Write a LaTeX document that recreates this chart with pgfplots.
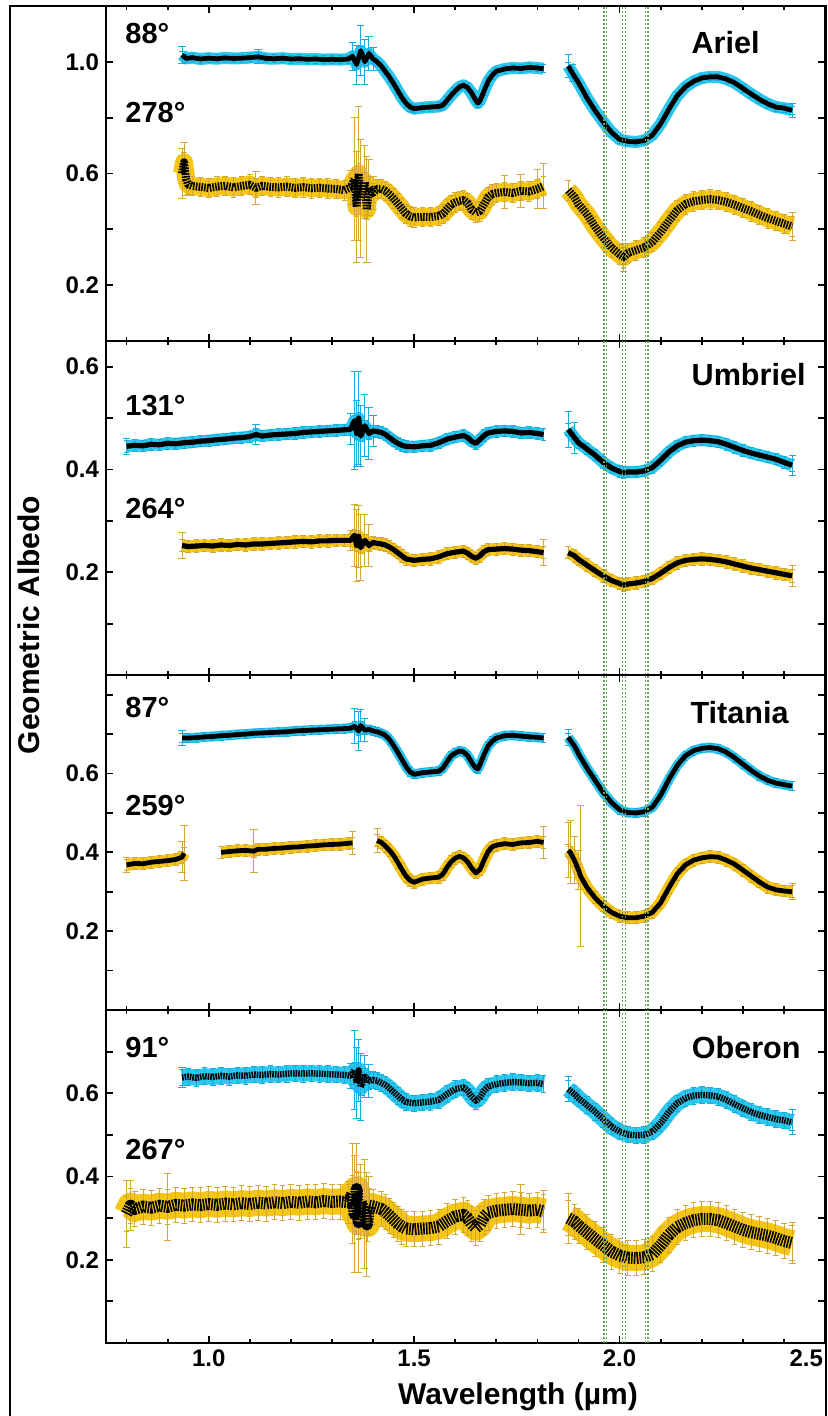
\documentclass[border=0pt]{standalone}
\usepackage{pgfplots}
\pgfplotsset{compat=1.18}
\usepackage{pgfplotstable}
\usepackage{fontspec}
\setmainfont{Liberation Sans}

\definecolor{cband}{RGB}{45,200,240}
\definecolor{cbar}{RGB}{20,175,225}
\definecolor{gband}{RGB}{246,198,20}
\definecolor{gbar}{RGB}{212,168,50}
\definecolor{vline}{RGB}{105,160,95}

% ---------------- Ariel ----------------
\pgfplotstableread{
x y
0.935 1.025
0.945 1.012
0.960 1.015
0.980 1.010
1.000 1.013
1.020 1.011
1.040 1.014
1.060 1.012
1.080 1.013
1.100 1.015
1.120 1.018
1.140 1.012
1.160 1.011
1.180 1.013
1.200 1.010
1.220 1.011
1.240 1.009
1.260 1.010
1.280 1.008
1.300 1.009
1.320 1.008
1.340 1.010
1.350 1.020
1.360 0.990
1.370 1.040
1.380 1.000
1.390 1.030
1.400 1.010
1.410 1.000
1.420 0.985
1.430 0.965
1.440 0.945
1.450 0.922
1.460 0.897
1.470 0.872
1.480 0.852
1.490 0.838
1.500 0.832
1.520 0.836
1.540 0.838
1.560 0.840
1.570 0.845
1.580 0.862
1.590 0.880
1.600 0.896
1.610 0.910
1.620 0.916
1.630 0.908
1.640 0.888
1.650 0.862
1.655 0.852
1.660 0.860
1.670 0.895
1.680 0.930
1.690 0.952
1.700 0.966
1.720 0.974
1.740 0.978
1.760 0.976
1.780 0.980
1.800 0.978
1.815 0.975
nan nan
1.875 0.985
1.885 0.960
1.900 0.925
1.920 0.872
1.940 0.826
1.960 0.785
1.980 0.748
2.000 0.722
2.020 0.715
2.040 0.713
2.060 0.718
2.080 0.738
2.100 0.778
2.120 0.830
2.140 0.878
2.160 0.910
2.180 0.930
2.200 0.942
2.220 0.946
2.240 0.946
2.260 0.938
2.280 0.925
2.300 0.905
2.320 0.885
2.340 0.866
2.360 0.850
2.380 0.838
2.400 0.834
2.420 0.826
}\ArielA
\pgfplotstableread{
x y e
0.935 1.025 0.030
1.120 1.018 0.025
1.350 1.020 0.050
1.360 0.990 0.070
1.370 1.040 0.090
1.380 1.000 0.080
1.390 1.030 0.060
1.400 1.010 0.040
1.875 0.985 0.040
1.885 0.960 0.030
2.420 0.826 0.025
}\ArielAe
\pgfplotstableread{
x y
0.935 0.600
0.940 0.640
0.945 0.580
0.950 0.560
0.960 0.555
0.980 0.552
1.000 0.548
1.020 0.553
1.040 0.556
1.060 0.550
1.080 0.555
1.100 0.560
1.115 0.548
1.130 0.556
1.150 0.552
1.170 0.550
1.190 0.553
1.210 0.548
1.230 0.551
1.250 0.547
1.270 0.549
1.290 0.546
1.310 0.545
1.330 0.540
1.345 0.550
1.355 0.580
1.360 0.480
1.365 0.600
1.370 0.510
1.380 0.570
1.385 0.470
1.390 0.550
1.400 0.530
1.410 0.545
1.420 0.545
1.430 0.538
1.440 0.525
1.450 0.510
1.460 0.492
1.470 0.474
1.480 0.456
1.490 0.446
1.500 0.442
1.520 0.445
1.540 0.444
1.560 0.448
1.570 0.455
1.580 0.472
1.590 0.488
1.600 0.496
1.610 0.502
1.620 0.505
1.630 0.494
1.640 0.470
1.650 0.460
1.660 0.465
1.670 0.490
1.680 0.515
1.690 0.526
1.700 0.530
1.720 0.534
1.740 0.530
1.760 0.538
1.780 0.535
1.800 0.545
1.815 0.555
nan nan
1.875 0.540
1.890 0.515
1.900 0.490
1.920 0.455
1.940 0.410
1.960 0.370
1.980 0.335
2.000 0.310
2.010 0.300
2.020 0.315
2.040 0.325
2.060 0.335
2.080 0.355
2.100 0.390
2.120 0.430
2.140 0.468
2.160 0.490
2.180 0.500
2.200 0.505
2.220 0.508
2.240 0.505
2.260 0.498
2.280 0.488
2.300 0.476
2.320 0.465
2.340 0.452
2.360 0.440
2.380 0.430
2.400 0.420
2.420 0.410
}\ArielB
\pgfplotstableread{
x y e
0.935 0.600 0.090
0.940 0.640 0.070
0.945 0.580 0.060
1.115 0.548 0.060
1.345 0.550 0.060
1.355 0.580 0.220
1.360 0.480 0.200
1.365 0.600 0.240
1.370 0.510 0.210
1.380 0.570 0.130
1.385 0.470 0.190
1.390 0.550 0.100
1.400 0.530 0.060
1.720 0.534 0.060
1.760 0.538 0.060
1.800 0.545 0.070
1.815 0.555 0.080
2.010 0.300 0.050
2.420 0.410 0.050
}\ArielBe

% ---------------- Umbriel ----------------
\pgfplotstableread{
x y
0.800 0.445
0.820 0.447
0.840 0.446
0.860 0.449
0.880 0.448
0.900 0.451
0.920 0.450
0.940 0.452
0.960 0.453
0.980 0.455
1.000 0.456
1.020 0.458
1.040 0.459
1.060 0.461
1.080 0.462
1.100 0.464
1.115 0.468
1.130 0.465
1.150 0.467
1.170 0.468
1.190 0.469
1.210 0.470
1.230 0.472
1.250 0.473
1.270 0.474
1.290 0.475
1.310 0.476
1.330 0.477
1.345 0.478
1.355 0.495
1.360 0.470
1.365 0.500
1.370 0.465
1.380 0.485
1.390 0.470
1.400 0.475
1.410 0.474
1.420 0.472
1.430 0.468
1.440 0.462
1.450 0.456
1.460 0.451
1.470 0.447
1.480 0.445
1.500 0.444
1.520 0.446
1.540 0.447
1.560 0.452
1.580 0.459
1.600 0.463
1.620 0.466
1.630 0.462
1.640 0.455
1.650 0.451
1.660 0.458
1.670 0.466
1.680 0.471
1.700 0.474
1.720 0.475
1.740 0.474
1.760 0.471
1.780 0.472
1.800 0.470
1.815 0.468
nan nan
1.875 0.478
1.890 0.462
1.900 0.452
1.920 0.440
1.940 0.428
1.960 0.414
1.980 0.403
2.000 0.396
2.010 0.394
2.020 0.395
2.040 0.395
2.060 0.397
2.080 0.404
2.100 0.418
2.120 0.434
2.140 0.446
2.160 0.453
2.180 0.456
2.200 0.457
2.220 0.456
2.240 0.454
2.260 0.449
2.280 0.443
2.300 0.437
2.320 0.432
2.340 0.428
2.360 0.424
2.380 0.420
2.400 0.414
2.420 0.408
}\UmbrielA
\pgfplotstableread{
x y e
0.800 0.445 0.015
1.115 0.468 0.020
1.345 0.478 0.030
1.355 0.495 0.095
1.360 0.470 0.065
1.365 0.500 0.090
1.370 0.465 0.060
1.380 0.485 0.060
1.390 0.470 0.050
1.400 0.475 0.030
1.875 0.478 0.035
1.890 0.462 0.030
2.420 0.408 0.020
}\UmbrielAe
\pgfplotstableread{
x y
0.935 0.252
0.950 0.250
0.970 0.251
0.990 0.252
1.010 0.251
1.030 0.253
1.050 0.252
1.070 0.254
1.090 0.253
1.110 0.255
1.130 0.255
1.150 0.256
1.170 0.257
1.190 0.258
1.210 0.259
1.230 0.260
1.250 0.259
1.270 0.261
1.290 0.261
1.310 0.262
1.330 0.262
1.345 0.262
1.355 0.272
1.360 0.252
1.365 0.270
1.370 0.248
1.380 0.262
1.390 0.252
1.400 0.258
1.410 0.256
1.420 0.255
1.430 0.253
1.440 0.249
1.450 0.244
1.460 0.238
1.470 0.232
1.480 0.226
1.500 0.223
1.520 0.225
1.540 0.226
1.560 0.230
1.580 0.236
1.600 0.239
1.620 0.241
1.630 0.237
1.640 0.231
1.650 0.227
1.660 0.232
1.670 0.240
1.680 0.244
1.700 0.245
1.720 0.246
1.740 0.245
1.760 0.243
1.780 0.242
1.800 0.240
1.815 0.238
nan nan
1.875 0.238
1.890 0.232
1.900 0.225
1.920 0.214
1.940 0.203
1.960 0.193
1.980 0.184
2.000 0.178
2.010 0.175
2.020 0.177
2.040 0.179
2.060 0.182
2.080 0.188
2.100 0.198
2.120 0.209
2.140 0.218
2.160 0.223
2.180 0.225
2.200 0.226
2.220 0.225
2.240 0.223
2.260 0.220
2.280 0.216
2.300 0.212
2.320 0.208
2.340 0.205
2.360 0.202
2.380 0.199
2.400 0.196
2.420 0.193
}\UmbrielB
\pgfplotstableread{
x y e
0.935 0.252 0.025
1.345 0.262 0.020
1.355 0.272 0.060
1.360 0.252 0.070
1.365 0.270 0.060
1.370 0.248 0.065
1.380 0.262 0.050
1.390 0.252 0.040
1.815 0.238 0.025
2.420 0.193 0.020
}\UmbrielBe

% ---------------- Titania ----------------
\pgfplotstableread{
x y
0.935 0.690
0.950 0.690
0.970 0.691
0.990 0.693
1.010 0.694
1.030 0.696
1.050 0.697
1.070 0.699
1.090 0.700
1.110 0.702
1.130 0.703
1.150 0.704
1.170 0.705
1.190 0.706
1.210 0.708
1.230 0.709
1.250 0.710
1.270 0.711
1.290 0.712
1.310 0.713
1.330 0.714
1.345 0.715
1.355 0.720
1.365 0.708
1.370 0.722
1.380 0.710
1.390 0.712
1.400 0.708
1.410 0.706
1.420 0.702
1.430 0.697
1.440 0.686
1.450 0.671
1.460 0.654
1.470 0.636
1.480 0.618
1.490 0.604
1.500 0.598
1.520 0.602
1.540 0.604
1.560 0.606
1.570 0.614
1.580 0.630
1.590 0.645
1.600 0.652
1.610 0.657
1.620 0.655
1.630 0.646
1.640 0.628
1.650 0.614
1.655 0.612
1.660 0.622
1.670 0.648
1.680 0.670
1.690 0.682
1.700 0.690
1.720 0.696
1.740 0.697
1.760 0.695
1.780 0.693
1.800 0.692
1.815 0.690
nan nan
1.875 0.692
1.890 0.670
1.900 0.650
1.920 0.615
1.940 0.583
1.960 0.552
1.980 0.527
2.000 0.508
2.020 0.501
2.040 0.500
2.060 0.503
2.080 0.515
2.100 0.545
2.120 0.585
2.140 0.620
2.160 0.645
2.180 0.658
2.200 0.664
2.220 0.666
2.240 0.663
2.260 0.654
2.280 0.640
2.300 0.624
2.320 0.608
2.340 0.594
2.360 0.583
2.380 0.576
2.400 0.572
2.420 0.568
}\TitaniaA
\pgfplotstableread{
x y e
0.935 0.690 0.018
1.355 0.720 0.045
1.365 0.708 0.050
1.370 0.722 0.040
1.380 0.710 0.030
1.875 0.692 0.020
}\TitaniaAe
\pgfplotstableread{
x y
0.800 0.368
0.820 0.372
0.840 0.371
0.860 0.375
0.880 0.377
0.900 0.379
0.920 0.382
0.935 0.388
0.940 0.398
nan nan
1.030 0.400
1.050 0.402
1.070 0.404
1.090 0.405
1.110 0.403
1.120 0.408
1.140 0.408
1.160 0.410
1.180 0.411
1.200 0.413
1.220 0.414
1.240 0.416
1.260 0.417
1.280 0.419
1.300 0.420
1.320 0.421
1.340 0.423
1.350 0.424
nan nan
1.410 0.430
1.420 0.425
1.430 0.416
1.440 0.405
1.450 0.392
1.460 0.375
1.470 0.357
1.480 0.340
1.490 0.329
1.500 0.324
1.520 0.332
1.540 0.335
1.560 0.337
1.570 0.345
1.580 0.362
1.590 0.376
1.600 0.385
1.610 0.390
1.620 0.386
1.630 0.376
1.640 0.360
1.650 0.348
1.660 0.356
1.670 0.380
1.680 0.402
1.690 0.414
1.700 0.418
1.720 0.422
1.740 0.420
1.760 0.424
1.780 0.425
1.800 0.428
1.815 0.425
nan nan
1.875 0.405
1.880 0.400
1.890 0.380
1.900 0.355
1.905 0.340
1.920 0.312
1.940 0.285
1.960 0.264
1.980 0.248
2.000 0.238
2.020 0.234
2.040 0.234
2.060 0.238
2.080 0.248
2.100 0.272
2.120 0.310
2.140 0.345
2.160 0.368
2.180 0.380
2.200 0.386
2.220 0.389
2.240 0.388
2.260 0.380
2.280 0.370
2.300 0.355
2.320 0.340
2.340 0.325
2.360 0.312
2.380 0.305
2.400 0.302
2.420 0.300
}\TitaniaB
\pgfplotstableread{
x y e
0.800 0.368 0.020
0.935 0.388 0.040
0.940 0.398 0.070
1.110 0.403 0.055
1.350 0.424 0.030
1.410 0.430 0.030
1.815 0.425 0.040
1.875 0.405 0.070
1.880 0.400 0.080
1.890 0.380 0.060
1.900 0.355 0.050
1.905 0.340 0.180
2.420 0.300 0.020
}\TitaniaBe

% ---------------- Oberon ----------------
\pgfplotstableread{
x y
0.935 0.638
0.950 0.640
0.970 0.637
0.990 0.641
1.010 0.639
1.030 0.642
1.050 0.640
1.070 0.643
1.090 0.642
1.110 0.645
1.130 0.644
1.150 0.646
1.170 0.645
1.190 0.647
1.210 0.648
1.230 0.647
1.250 0.648
1.270 0.647
1.290 0.646
1.310 0.645
1.330 0.644
1.345 0.642
1.355 0.655
1.360 0.625
1.365 0.655
1.370 0.615
1.380 0.640
1.390 0.630
1.400 0.632
1.410 0.630
1.420 0.625
1.430 0.620
1.440 0.612
1.450 0.603
1.460 0.594
1.470 0.585
1.480 0.579
1.500 0.576
1.520 0.578
1.540 0.580
1.560 0.584
1.580 0.598
1.600 0.610
1.620 0.614
1.630 0.606
1.640 0.592
1.650 0.582
1.660 0.590
1.670 0.606
1.680 0.616
1.700 0.622
1.720 0.625
1.740 0.627
1.760 0.626
1.780 0.624
1.800 0.625
1.815 0.622
nan nan
1.875 0.610
1.890 0.598
1.900 0.588
1.920 0.572
1.940 0.556
1.960 0.538
1.980 0.520
2.000 0.508
2.020 0.501
2.040 0.499
2.060 0.500
2.080 0.508
2.100 0.528
2.120 0.555
2.140 0.576
2.160 0.588
2.180 0.594
2.200 0.596
2.220 0.595
2.240 0.592
2.260 0.584
2.280 0.574
2.300 0.564
2.320 0.555
2.340 0.548
2.360 0.543
2.380 0.538
2.400 0.535
2.420 0.530
}\OberonA
\pgfplotstableread{
x y e
0.935 0.638 0.025
1.345 0.642 0.030
1.355 0.655 0.095
1.360 0.625 0.085
1.365 0.655 0.075
1.370 0.615 0.080
1.380 0.640 0.050
1.390 0.630 0.040
1.875 0.610 0.030
2.420 0.530 0.030
}\OberonAe
\pgfplotstableread{
x y
0.800 0.310
0.810 0.330
0.820 0.322
0.840 0.328
0.860 0.325
0.880 0.330
0.900 0.327
0.920 0.332
0.940 0.330
0.960 0.333
0.980 0.331
1.000 0.334
1.020 0.332
1.040 0.335
1.060 0.333
1.080 0.336
1.100 0.334
1.120 0.337
1.140 0.335
1.160 0.338
1.180 0.336
1.200 0.339
1.220 0.337
1.240 0.340
1.260 0.338
1.280 0.341
1.300 0.339
1.320 0.340
1.340 0.338
1.350 0.360
1.355 0.310
1.360 0.370
1.365 0.290
1.370 0.340
1.380 0.310
1.385 0.285
1.390 0.330
1.400 0.328
1.420 0.322
1.430 0.315
1.440 0.306
1.450 0.296
1.460 0.287
1.470 0.280
1.480 0.275
1.500 0.273
1.520 0.275
1.540 0.276
1.560 0.280
1.580 0.293
1.600 0.304
1.620 0.308
1.630 0.300
1.640 0.286
1.650 0.277
1.660 0.285
1.670 0.303
1.680 0.313
1.700 0.318
1.720 0.320
1.740 0.322
1.760 0.320
1.780 0.318
1.800 0.320
1.815 0.316
nan nan
1.875 0.300
1.890 0.292
1.900 0.282
1.920 0.266
1.940 0.250
1.960 0.235
1.980 0.220
2.000 0.210
2.020 0.205
2.040 0.204
2.060 0.206
2.080 0.214
2.100 0.235
2.120 0.260
2.140 0.278
2.160 0.288
2.180 0.295
2.200 0.298
2.220 0.298
2.240 0.295
2.260 0.288
2.280 0.280
2.300 0.272
2.320 0.266
2.340 0.262
2.360 0.258
2.380 0.252
2.400 0.245
2.420 0.240
}\OberonB
\pgfplotstableread{
x y e
0.800 0.310 0.080
0.810 0.330 0.060
0.900 0.327 0.080
1.340 0.338 0.050
1.350 0.360 0.120
1.355 0.310 0.140
1.360 0.370 0.110
1.365 0.290 0.120
1.370 0.340 0.090
1.380 0.310 0.130
1.385 0.285 0.125
1.390 0.330 0.070
1.760 0.320 0.060
1.815 0.316 0.050
1.875 0.300 0.060
2.420 0.240 0.050
}\OberonBe

% one spectrum: band, error bars, black trace
% #1 data, #2 large error bars, #3 band colour, #4 bar colour,
% #5 band width, #6 typical error, #7 trace width, #8 extra trace options
\newcommand\spectrum[8]{%
  \addplot[#3, line width=#5, line join=round, line cap=butt, forget plot] table {#1};
  \addplot[draw=none, mark=none, forget plot,
    error bars/.cd, y dir=both, y fixed=#6,
    error bar style={draw=#4, line width=0.4pt},
    error mark options={rotate=90, mark size=1.4pt, draw=#4, line width=0.4pt}] table {#1};
  \addplot[draw=none, mark=none, forget plot,
    error bars/.cd, y dir=both, y explicit,
    error bar style={draw=#4, line width=0.5pt},
    error mark options={rotate=90, mark size=1.8pt, draw=#4, line width=0.5pt}]
    table[x=x, y=y, y error=e] {#2};
  \addplot[black, mark=none, line width=#7, line join=round, forget plot, #8] table {#1};
}
\newcommand\bandlines{%
  \pgfplotsinvokeforeach{1.962,1.969,2.007,2.014,2.064,2.069}{%
    \addplot[vline, mark=none, line width=0.6pt, dash pattern=on 1pt off 1pt, forget plot]
      coordinates {(##1,0) (##1,1.3)};}%
}

\pgfplotsset{
  moon/.style={
    scale only axis, width=359.5pt, anchor=south west,
    xmin=0.75, xmax=2.5, ymin=0,
    axis line style={line width=1.1pt},
    every tick/.style={black, line width=0.9pt},
    major tick length=3.5pt, minor tick length=2.2pt,
    tick align=inside,
    xtick={1.0,1.5,2.0,2.5},
    minor xtick={0.8,0.9,1.1,1.2,1.3,1.4,1.6,1.7,1.8,1.9,2.1,2.2,2.3,2.4},
    xticklabels={},
    tick label style={font=\fontsize{12}{14}\selectfont\bfseries},
    unbounded coords=jump, clip=true,
  },
}

\begin{document}
\begin{tikzpicture}
\useasboundingbox (0,0) rectangle (414pt,708pt);

% Ariel
\begin{axis}[moon, at={(53pt,537.5pt)}, height=167.5pt, ymax=1.2,
  ytick={0.2,0.4,0.6,0.8,1.0}, yticklabels={0.2,,0.6,,1.0}]
\spectrum{\ArielA}{\ArielAe}{cband}{cbar}{6pt}{0.014}{2.4pt}{}
\spectrum{\ArielB}{\ArielBe}{gband}{gbar}{9pt}{0.035}{4pt}{dash pattern=on 0.8pt off 0.6pt}
\bandlines
\end{axis}

% Umbriel
\begin{axis}[moon, at={(53pt,370.5pt)}, height=167pt, ymax=0.65,
  ytick={0.1,0.2,0.3,0.4,0.5,0.6}, yticklabels={,0.2,,0.4,,0.6}]
\spectrum{\UmbrielA}{\UmbrielAe}{cband}{cbar}{6pt}{0.011}{2.6pt}{}
\spectrum{\UmbrielB}{\UmbrielBe}{gband}{gbar}{6pt}{0.012}{2.6pt}{}
\bandlines
\end{axis}

% Titania
\begin{axis}[moon, at={(53pt,203pt)}, height=167.5pt, ymax=0.85,
  ytick={0.1,0.2,0.3,0.4,0.5,0.6,0.7,0.8}, yticklabels={,0.2,,0.4,,0.6,,}]
\spectrum{\TitaniaA}{\TitaniaAe}{cband}{cbar}{5pt}{0.011}{2.4pt}{}
\spectrum{\TitaniaB}{\TitaniaBe}{gband}{gbar}{6pt}{0.015}{2.4pt}{}
\bandlines
\end{axis}

% Oberon
\begin{axis}[moon, at={(53pt,36.5pt)}, height=166.5pt, ymax=0.8,
  ytick={0.1,0.2,0.3,0.4,0.5,0.6,0.7}, yticklabels={,0.2,,0.4,,0.6,},
  xticklabels={1.0,1.5,2.0,\llap{2.5\hspace{1pt}}}]
\spectrum{\OberonA}{\OberonAe}{cband}{cbar}{8pt}{0.020}{3.2pt}{dash pattern=on 0.8pt off 0.5pt}
\spectrum{\OberonB}{\OberonBe}{gband}{gbar}{13pt}{0.042}{6pt}{dash pattern=on 0.8pt off 0.6pt}
\bandlines
\end{axis}

% outer frame
\draw[line width=1pt] (5pt,-5pt) -- (5pt,705pt) -- (413.2pt,705pt) -- (413.2pt,-5pt);

% labels
\begin{scope}[every node/.style={inner sep=0pt, font=\fontsize{14.5}{17}\selectfont\bfseries}]
\node[anchor=west] at (62.5pt,691pt) {88°};
\node[anchor=west] at (62.5pt,651.5pt) {278°};
\node[anchor=east, font=\fontsize{15.3}{18}\selectfont\bfseries] at (380pt,686.5pt) {Ariel};
\node[anchor=west] at (62.5pt,505pt) {131°};
\node[anchor=west] at (62.5pt,453.5pt) {264°};
\node[anchor=east, font=\fontsize{15.3}{18}\selectfont\bfseries] at (403pt,520.5pt) {Umbriel};
\node[anchor=west] at (62.5pt,354pt) {87°};
\node[anchor=west] at (62.5pt,305pt) {259°};
\node[anchor=east, font=\fontsize{15.3}{18}\selectfont\bfseries] at (394.5pt,351.5pt) {Titania};
\node[anchor=west] at (62.5pt,184pt) {91°};
\node[anchor=west] at (62.5pt,133pt) {267°};
\node[anchor=east, font=\fontsize{15.3}{18}\selectfont\bfseries] at (400.5pt,184pt) {Oberon};
\node[rotate=90, font=\fontsize{15}{18}\selectfont\bfseries] at (14.5pt,395.5pt) {Geometric Albedo};
\node[font=\fontsize{15}{18}\selectfont\bfseries] at (259pt,9.5pt) {Wavelength (µm)};
\end{scope}
\end{tikzpicture}
\end{document}
